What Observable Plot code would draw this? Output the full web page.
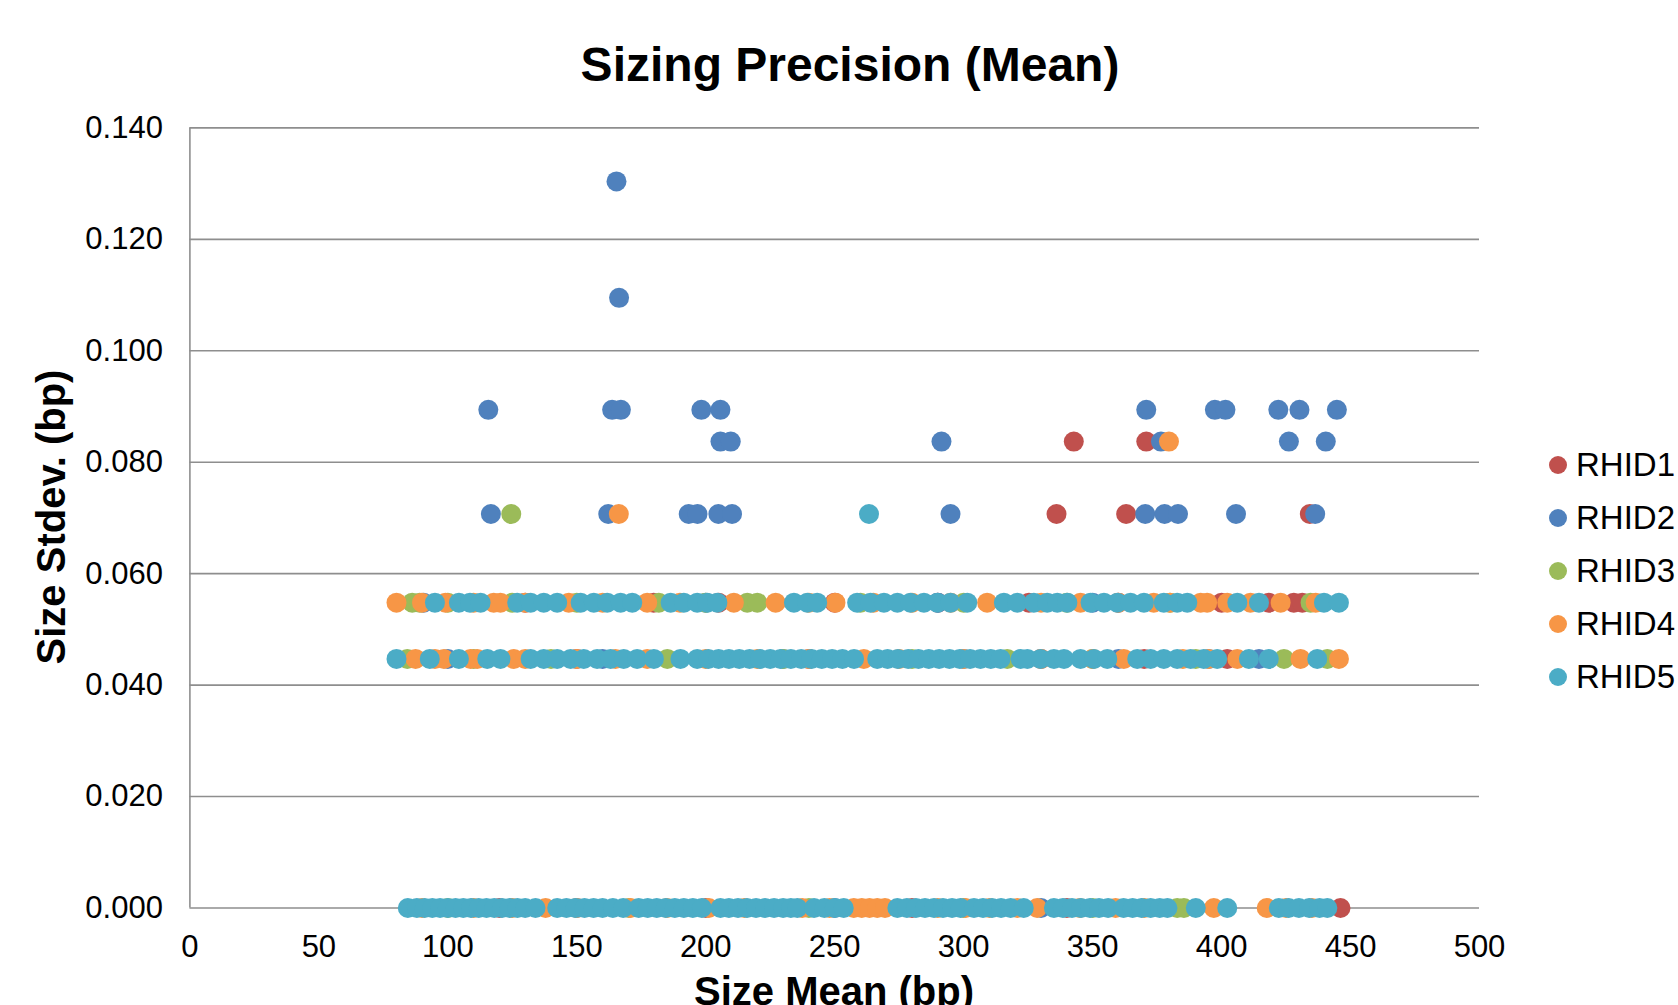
<!DOCTYPE html>
<html>
<head>
<meta charset="utf-8">
<script src="https://cdn.jsdelivr.net/npm/d3@7"></script>
<script src="https://cdn.jsdelivr.net/npm/@observablehq/plot@0.6"></script>
<style>
  html, body { margin: 0; padding: 0; background: #fff; overflow: hidden; }
  body { width: 1678px; height: 1005px; position: relative; font-family: "Liberation Sans", Arial, sans-serif; color: #000; }
  #chart { position: absolute; left: 0; top: 0; }
  .txt { position: absolute; line-height: 1; white-space: nowrap; }
  .title { font-weight: bold; font-size: 48px; left: 850px; top: 41px; transform: translateX(-50%); }
  .ytitle { font-weight: bold; font-size: 40px; left: 51px; top: 517px; transform: translate(-50%, -50%) rotate(-90deg); }
  .xtitle { font-weight: bold; font-size: 40px; left: 834px; top: 971px; transform: translateX(-50%); }
  .legend-item { position: absolute; left: 1549px; height: 40px; display: flex; align-items: center; font-size: 33px; white-space: nowrap; transform: translateY(-50%); }
  .legend-item .sw { width: 18px; height: 18px; border-radius: 50%; margin-right: 9px; flex: none; }
</style>
</head>
<body>
<div id="chart"></div>
<div class="txt title">Sizing Precision (Mean)</div>
<div class="txt ytitle">Size Stdev. (bp)</div>
<div class="txt xtitle">Size Mean (bp)</div>
<script>
// ---- Data ----
const seriesNames = ["RHID1", "RHID2", "RHID3", "RHID4", "RHID5"];
const seriesColors = ["#C0504D", "#4F81BD", "#9BBB59", "#F79646", "#4BACC6"];
const xTicks = [0, 50, 100, 150, 200, 250, 300, 350, 400, 450, 500];
const yTicks = [0, 0.02, 0.04, 0.06, 0.08, 0.10, 0.12, 0.14];

// Each series: [size stdev, [size means at that stdev]]
const RHID1 = [
  [0.0000, [120, 200, 280, 340, 446.1]],
  [0.0447, [150, 240, 330, 370, 402.2]],
  [0.0548, [130, 179.8, 205, 250, 290, 325.3, 360, 400, 418.3, 428.0, 431.3]],
  [0.0707, [336.0, 363.0, 434.2]],
  [0.0837, [342.7, 370.8]]
];
const RHID2 = [
  [0.0000, [150, 250, 330]],
  [0.0447, [100, 160, 230, 300, 360, 395, 414.5]],
  [0.0548, [90.6, 200, 290, 350]],
  [0.0707, [116.7, 162.2, 193.4, 196.8, 204.9, 210.2, 294.9, 370.4, 377.9, 383.1, 405.6, 436.3]],
  [0.0837, [205.7, 209.7, 291.4, 376.5, 426.1, 440.4]],
  [0.0894, [115.7, 163.7, 167.1, 198.3, 205.7, 370.8, 397.4, 401.5, 422.0, 430.2, 444.7]],
  [0.1095, [166.4]],
  [0.1304, [165.4]]
];
const RHID3 = [
  [0.0000, [100, 170.2, 240, 300, 350, 382.8, 385.4]],
  [0.0447, [84.3, 110, 140, 185.1, 230, 280, 316.9, 350, 390, 424.2, 441.0]],
  [0.0548, [86.2, 89.1, 100, 125, 150, 181.8, 200, 216.1, 220.0, 260, 300, 340, 380, 434.5]],
  [0.0707, [124.6]]
];
const RHID4 = [
  [0.0000, [90, 110, 125, 137.9, 150, 170.8, 185, 201.2, 215, 237.4, 248, 257.4, 260.5, 263.5, 266.5, 269.5, 290, 300.7, 310, 320.8, 328.5, 345, 358.9, 370, 397.0, 417.5, 425, 435]],
  [0.0447, [87.5, 95, 98.5, 108.8, 111.4, 125.6, 130, 150, 165, 177.3, 200, 220, 240, 261.3, 275, 300, 330, 350, 362.1, 385, 395, 406.1, 430.6, 445.5]],
  [0.0548, [80.1, 90, 99.1, 110, 117.8, 120.4, 130, 146.9, 160, 177.3, 190, 210.9, 227.1, 240, 250.3, 265, 280, 295, 309.1, 330, 345.3, 360, 373.7, 380, 391.9, 394.4, 402.2, 411.2, 422.9, 436.5]],
  [0.0707, [166.3]],
  [0.0837, [379.6]]
];
const RHID5 = [
  [0.0000, [84.5, 88, 91, 94, 97, 100, 103, 106, 109, 112, 115, 118, 121, 124, 127, 130, 134, 142.4, 146, 149.5, 153, 156.5, 160, 164, 168, 174, 177.5, 181, 184.5, 188, 191.5, 195, 198.5, 205.7, 209, 212.5, 216, 219.5, 223, 226.5, 230, 233, 235.5, 242, 246, 250, 253.5, 274.3, 278, 281.5, 285, 288.5, 292, 295.5, 298.8, 304, 307.5, 311, 314.5, 318.2, 323.3, 335, 338.5, 342, 345.5, 349, 352.5, 356, 362, 365.5, 369, 372.5, 376, 379, 390, 402.2, 422.2, 426, 430, 434, 438, 441]],
  [0.0447, [80.1, 93.0, 104.3, 115.3, 120.4, 132.1, 137.2, 142.4, 147.6, 152.7, 157.9, 163.1, 168.2, 173.4, 179.9, 190.2, 196.7, 201, 205, 209, 213, 217, 221, 225, 229, 233, 237, 241, 245, 249, 253, 257.5, 266.5, 270.5, 274.5, 278.5, 282.5, 286.5, 290.5, 294.5, 298.5, 302.5, 306.5, 310.5, 314.3, 322.1, 324.7, 329.8, 335.0, 338.9, 345.3, 350.5, 355.7, 367.3, 372.5, 377.6, 382.8, 388.0, 393.1, 398.3, 410.6, 418.3, 437.1]],
  [0.0548, [95.0, 104.3, 108.6, 112.7, 126.9, 132.1, 137.2, 142.4, 151.5, 156.6, 161.8, 167.0, 171.5, 186.4, 191.5, 196.7, 200.6, 204.5, 234.2, 239.4, 243.2, 258.7, 263.9, 269.1, 274.3, 279.4, 284.6, 289.8, 294.9, 301.4, 315.6, 320.8, 327.2, 332.4, 336.3, 340.2, 349.2, 354.4, 359.6, 364.7, 369.9, 377.6, 382.8, 386.7, 406.1, 414.5, 439.7, 445.5]],
  [0.0707, [263.3]]
];

// ---- Build table (series drawn in order, RHID5 on top) ----
const seriesRows = [RHID1, RHID2, RHID3, RHID4, RHID5];
const points = [];
seriesRows.forEach((rows, i) => {
  rows.forEach(([sd, means]) => {
    means.forEach(m => points.push({series: seriesNames[i], mean: m, sd}));
  });
});

const gridColor = "#8e8e8e";

const chart = Plot.plot({
  width: 1678,
  height: 1005,
  marginLeft: 189.4,
  marginRight: 199,
  marginTop: 127.4,
  marginBottom: 97.5,
  x: {domain: [0, 500]},
  y: {domain: [0, 0.14]},
  color: {domain: seriesNames, range: seriesColors},
  style: {fontFamily: "'Liberation Sans', Arial, sans-serif", fontSize: "31px", color: "#000", background: "#fff", overflow: "visible"},
  marks: [
    Plot.ruleY(yTicks, {stroke: gridColor, strokeWidth: 1.6}),
    Plot.ruleX([0], {stroke: gridColor, strokeWidth: 1.6}),
    Plot.axisY({ticks: yTicks, tickFormat: d3.format(".3f"), tickSize: 0, tickPadding: 27, fontSize: 31, label: null}),
    Plot.axisX({ticks: xTicks, tickFormat: d3.format("d"), tickSize: 0, tickPadding: 27, fontSize: 31, label: null}),
    Plot.dot(points, {x: "mean", y: "sd", fill: "series", r: 10})
  ]
});
document.getElementById("chart").appendChild(chart);

// ---- Legend ----
const legendTop = 465, legendStep = 53;
seriesNames.forEach((name, i) => {
  const item = document.createElement("div");
  item.className = "legend-item";
  item.style.top = (legendTop + i * legendStep) + "px";
  const sw = document.createElement("span");
  sw.className = "sw";
  sw.style.background = seriesColors[i];
  const label = document.createElement("span");
  label.textContent = name;
  item.appendChild(sw);
  item.appendChild(label);
  document.body.appendChild(item);
});
</script>
</body>
</html>
